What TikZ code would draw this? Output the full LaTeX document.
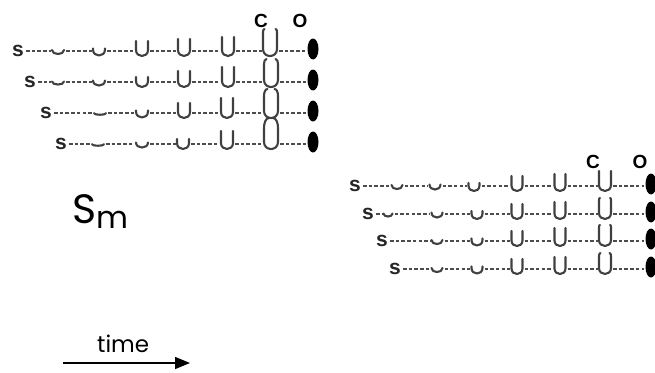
\documentclass[tikz,border=0pt]{standalone}
\usepackage{fontspec}
\setmainfont{Liberation Sans}
\newfontfamily\gothic{Poppins}
\usetikzlibrary{arrows.meta,shapes.geometric}

\tikzset{
  link/.style={draw=black!70, line width=1.3pt, dash pattern=on 3.5pt off 2.2pt,
    shorten <=2pt, shorten >=1.5pt},
  stem/.style={draw=black!75, line width=2.1pt, line cap=round, line join=round},
  seed/.style={font=\bfseries\fontsize{21}{21}\selectfont, text=black!85, inner sep=0pt},
  state/.style={font=\bfseries\fontsize{19}{19}\selectfont, inner sep=0pt},
  pore/.style={ellipse, fill=black, inner sep=0pt, minimum width=11pt, minimum height=21pt},
  pics/gate/.style args={#1/#2/#3}{code={
    \pgfmathsetmacro\gb{min(#1/2+1,5)}
    \pgfmathsetmacro\gs{min(#1,#2/2)}
    \pgfmathsetmacro\gt{#1-\gb}
    \pgfmathsetmacro\gh{#2/2}
    \draw[stem] ({-\gh+#3},\gt) .. controls ({-\gh+#3/3},\gt) and (-\gh,{\gt-#3}) .. (-\gh,{\gt-2*#3})
      -- (-\gh,{\gs-\gb}) .. controls (-\gh,{-\gb-\gs/3}) and (\gh,{-\gb-\gs/3}) .. (\gh,{\gs-\gb})
      -- (\gh,{\gt-2*#3}) .. controls (\gh,{\gt-#3}) and ({\gh-#3/3},\gt) .. ({\gh-#3},\gt);
    \coordinate (-l) at (-\gh,0);
    \coordinate (-r) at (\gh,0);
  }}
}

\begin{document}
\begin{tikzpicture}[x=1pt,y=1pt]
  \useasboundingbox (0,0) rectangle (655,-372);

  \node[state] (tc) at (261,-21) {C};
  \node[state] (to) at (300,-21) {O};
  \node[state] (bc) at (593,-162) {C};
  \node[state] (bo) at (640,-162) {O};

  \foreach \g/\r/\ly/\sx/\ex/\gates in {
      t/1/51/18/313/{58/4/12/0,99/7/12/0,142/15/12/0,184/17/12/0,228/19/12/0,270/27/14/1.5},
      t/2/82/30/313/{58/3/12/0,99/5/12/0,142/10/12/0,184/16/12/0,228/20/12/0,271/28/14/2.5},
      t/3/113/46/313/{100/1.5/12/0,142/7/12/0,184/15/12/0,227/20/12/0,271/29/14/3.5},
      t/4/144/61/313/{98/1.5/12/0,142/5/12/0,183/10/12/0,227/18/12/0,271/31/14/5},
      b/1/186/355/651/{397/4/11/0,435/5/11/0,474/8/11/0,517/15/11/0,560/17/11/0,605/20/12/0},
      b/2/214/368/651/{388/3/9/0,437/5/11/0,477/8/11/0,517/15/11/0,560/17/11/0,605/21/12/1},
      b/3/241/382/651/{437/4/11/0,477/7/11/0,517/15/11/0,560/18/11/0,605/21/12/1},
      b/4/269/395/651/{437/4/11/0,477/7/11/0,517/15/11/0,560/17/11/0,605/21/12/1.5}}{
    \node[seed] (\g\r-0) at (\sx,-\ly) {s};
    \coordinate (\g\r-0-r) at (\g\r-0.east);
    \node[pore] (\g\r-e) at (\ex,{2-\ly}) {};
    \foreach \gx/\gd/\gw/\gp [count=\i, remember=\i as \j (initially 0)] in \gates {
      \pic (\g\r-\i) at (\gx,-\ly) {gate=\gd/\gw/\gp};
      \draw[link] (\g\r-\j-r) -- (\g\r-\i-l);
      \xdef\gl{\i}
    }
    \draw[link] (\g\r-\gl-r) -- (\g\r-\gl-r -| \g\r-e.west);
  }

  \node[anchor=base west, inner sep=0pt] (sm) at (72,-223)
    {\gothic\fontsize{41}{41}\selectfont S\raisebox{-5pt}{\fontsize{31}{31}\selectfont m}};
  \node[anchor=base west, inner sep=0pt] (time) at (97,-352)
    {\gothic\fontsize{23}{23}\selectfont time};
  \coordinate (tail) at (63,-363);
  \coordinate (head) at (190,-363);
  \draw[line width=1.5pt, -{Triangle[length=15pt,width=12pt]}] (tail) -- (head);
\end{tikzpicture}
\end{document}
